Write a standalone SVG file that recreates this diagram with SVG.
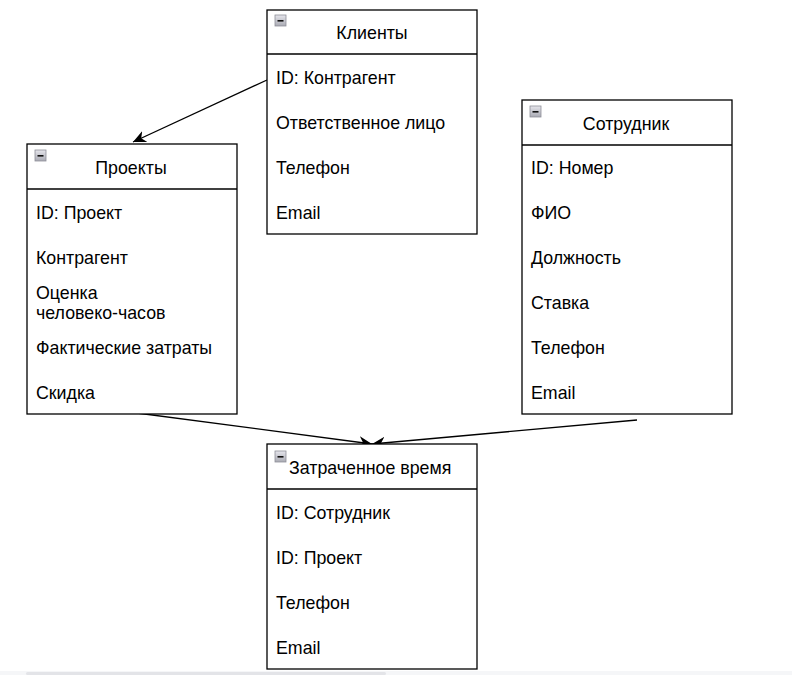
<svg xmlns="http://www.w3.org/2000/svg" width="792" height="675" viewBox="0 0 792 675">
<style>
.box{fill:#fff;stroke:#000;stroke-width:1.3}
.sep{stroke:#000;stroke-width:1.3}
.t{font-family:"Liberation Sans",Arial,sans-serif;font-size:17.8px;fill:#000}
.h{text-anchor:middle}
.edge{stroke:#000;stroke-width:1.3;fill:none}
</style>
<defs>
<linearGradient id="ig" x1="0" y1="0" x2="0" y2="1"><stop offset="0" stop-color="#e6e6ec"/><stop offset="1" stop-color="#a9aab3"/></linearGradient>
<g id="icon"><rect x="0" y="0" width="11" height="11" fill="url(#ig)" stroke="#8e8f98" stroke-width="0.8"/><rect x="2.5" y="5" width="6" height="1.6" fill="#111"/></g>
<marker id="arr" viewBox="0 0 14 14" refX="13" refY="7" markerWidth="14" markerHeight="14" markerUnits="userSpaceOnUse" orient="auto"><path d="M0,1 L13,7 L0,13 L4,7 z" fill="#000"/></marker>
</defs>
<rect width="792" height="675" fill="#fff"/>
<rect x="0" y="671" width="792" height="4" fill="#f5f6f8"/>
<rect x="26" y="672" width="360" height="3" rx="1.5" fill="#e3e4e8"/>
<g id="connectors">
<path class="edge" d="M267,80 L133,142" marker-end="url(#arr)"/>
<path class="edge" d="M137,413 L372,444" marker-end="url(#arr)"/>
<path class="edge" d="M637,420 L372,444" marker-end="url(#arr)"/>
</g>
<g id="clients">
<rect class="box" x="267" y="10" width="210" height="224"/>
<line class="sep" x1="267" y1="54" x2="477" y2="54"/>
<use href="#icon" x="275" y="15"/>
<text class="t h" x="372" y="39">Клиенты</text>
<text class="t" x="276" y="84">ID: Контрагент</text>
<text class="t" x="276" y="129">Ответственное лицо</text>
<text class="t" x="276" y="174">Телефон</text>
<text class="t" x="276" y="219">Email</text>
</g>
<g id="projects">
<rect class="box" x="27" y="144" width="210" height="270"/>
<line class="sep" x1="27" y1="189" x2="237" y2="189"/>
<use href="#icon" x="35" y="150"/>
<text class="t h" x="131" y="174">Проекты</text>
<text class="t" x="36" y="219">ID: Проект</text>
<text class="t" x="36" y="264">Контрагент</text>
<text class="t" x="36" y="299">Оценка</text>
<text class="t" x="36" y="319">человеко-часов</text>
<text class="t" x="36" y="354">Фактические затраты</text>
<text class="t" x="36" y="399">Скидка</text>
</g>
<g id="employee">
<rect class="box" x="522" y="100" width="210" height="314"/>
<line class="sep" x1="522" y1="145" x2="732" y2="145"/>
<use href="#icon" x="530" y="106"/>
<text class="t h" x="626" y="130">Сотрудник</text>
<text class="t" x="531" y="174">ID: Номер</text>
<text class="t" x="531" y="219">ФИО</text>
<text class="t" x="531" y="264">Должность</text>
<text class="t" x="531" y="309">Ставка</text>
<text class="t" x="531" y="354">Телефон</text>
<text class="t" x="531" y="399">Email</text>
</g>
<g id="timespent">
<rect class="box" x="267" y="444" width="210" height="225"/>
<line class="sep" x1="267" y1="489" x2="477" y2="489"/>
<use href="#icon" x="275" y="451"/>
<text class="t" x="289" y="474">Затраченное время</text>
<text class="t" x="276" y="519">ID: Сотрудник</text>
<text class="t" x="276" y="564">ID: Проект</text>
<text class="t" x="276" y="609">Телефон</text>
<text class="t" x="276" y="654">Email</text>
</g>
</svg>
